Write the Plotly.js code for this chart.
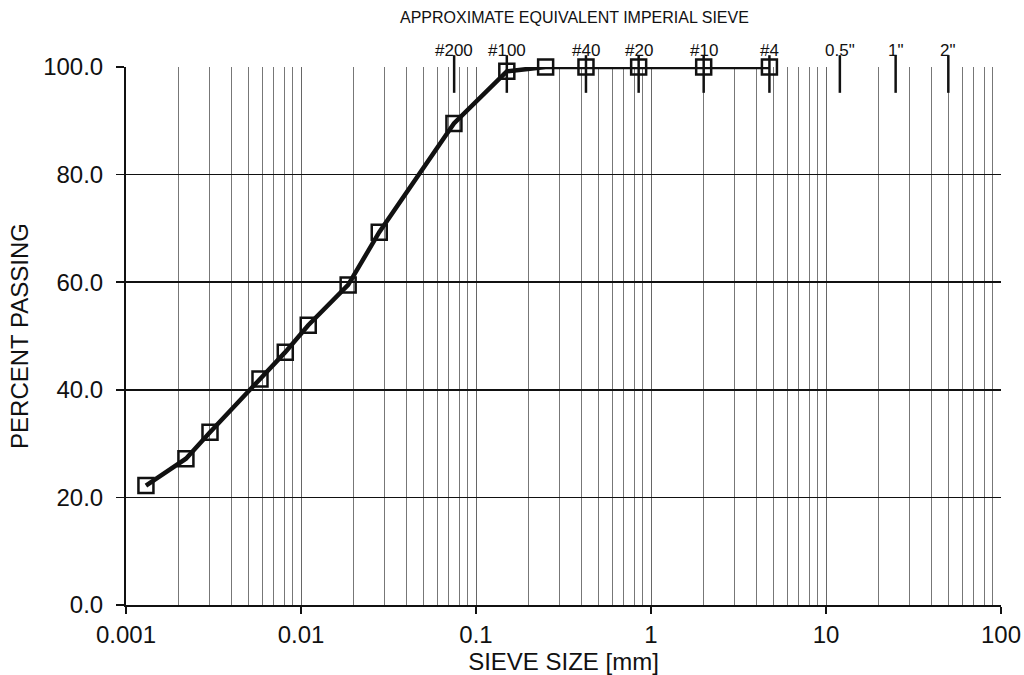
<!DOCTYPE html>
<html>
<head>
<meta charset="utf-8">
<script src="https://cdn.plot.ly/plotly-3.0.1.min.js"></script>
<style>html,body{margin:0;padding:0;background:#fff;}#chart{width:1024px;height:675px;}</style>
</head>
<body>
<div id="chart"></div>
<script>
// Grain size distribution data
var sieveSizeMm = [0.0013, 0.0022, 0.00302, 0.00583, 0.00813, 0.0110, 0.0186, 0.0280, 0.0748, 0.15, 0.25, 0.425, 0.85, 2.0, 4.75];
var percentPassing = [22.2, 27.2, 32.1, 42.0, 47.0, 52.0, 59.5, 69.3, 89.5, 99.2, 100, 100, 100, 100, 100];

// Approximate equivalent imperial sieves
var imperialLabels = ["#200", "#100", "#40", "#20", "#10", "#4", "0.5\"", "1\"", "2\""];
var imperialSizesMm = [0.075, 0.15, 0.425, 0.85, 2.0, 4.75, 12.0, 25.0, 50.0];

// Axis tick labels
var xTickVals = [0.001, 0.01, 0.1, 1, 10, 100];
var xTickText = ["0.001", "0.01", "0.1", "1", "10", "100"];
var yTickVals = [0, 20, 40, 60, 80, 100];
var yTickText = ["0.0", "20.0", "40.0", "60.0", "80.0", "100.0"];

var FONT = "Liberation Sans, Arial, sans-serif";

// minor grid positions (2..9 in each decade)
var minorVals = [];
for (var e = -3; e < 2; e++) {
  for (var m = 2; m <= 9; m++) minorVals.push(m * Math.pow(10, e));
}

var trace = {
  x: sieveSizeMm,
  y: percentPassing,
  type: "scatter",
  mode: "lines+markers",
  line: {color: "#111", width: 4.5},
  marker: {symbol: "square-open", size: 15, color: "#111", line: {width: 2.5, color: "#111"}},
  cliponaxis: false,
  hoverinfo: "x+y"
};

var shapes = [];
var annotations = [];
for (var i = 0; i < imperialSizesMm.length; i++) {
  shapes.push({
    type: "line", xref: "x", yref: "paper",
    x0: imperialSizesMm[i], x1: imperialSizesMm[i],
    y0: 0.952, y1: 1.022,
    line: {color: "#111", width: 2.5}
  });
  annotations.push({
    xref: "x", yref: "paper",
    x: Math.log10(imperialSizesMm[i]), y: 1.0 + (67 - 51) / 538,
    text: imperialLabels[i], showarrow: false,
    xanchor: "center", yanchor: "middle",
    font: {family: FONT, size: 17, color: "#111"}
  });
}
annotations.push({
  xref: "paper", yref: "paper", x: (574 - 126) / 875, y: 1.0 + (67 - 17) / 538,
  text: "APPROXIMATE EQUIVALENT IMPERIAL SIEVE", showarrow: false,
  xanchor: "center", yanchor: "middle",
  font: {family: FONT, size: 16, color: "#111"}
});

var layout = {
  width: 1024, height: 675,
  margin: {l: 126, r: 23, t: 67, b: 70},
  paper_bgcolor: "#fff", plot_bgcolor: "#fff",
  showlegend: false,
  font: {family: FONT, color: "#111"},
  xaxis: {
    type: "log",
    range: [-3, 2],
    tickmode: "array", tickvals: xTickVals, ticktext: xTickText,
    tickfont: {family: FONT, size: 24, color: "#111"},
    ticks: "outside", ticklen: 7, tickwidth: 1.5, tickcolor: "#111",
    showgrid: true, gridcolor: "#666", gridwidth: 1,
    minor: {tickmode: "array", tickvals: minorVals, showgrid: true, gridcolor: "#777", gridwidth: 1, ticks: ""},
    showline: true, linecolor: "#111", linewidth: 2,
    zeroline: false,
    title: {text: "SIEVE SIZE [mm]", font: {family: FONT, size: 24, color: "#111"}, standoff: 0}
  },
  yaxis: {
    range: [0, 100],
    tickmode: "array", tickvals: yTickVals, ticktext: yTickText,
    tickfont: {family: FONT, size: 24, color: "#111"},
    ticks: "outside", ticklen: 8, tickwidth: 1.5, tickcolor: "#111",
    ticklabelstandoff: 8,
    showgrid: true, gridcolor: "#111", gridwidth: 1.5,
    showline: true, linecolor: "#111", linewidth: 2,
    zeroline: false,
    title: {text: "PERCENT PASSING", font: {family: FONT, size: 24, color: "#111"}, standoff: 8}
  },
  shapes: shapes,
  annotations: annotations
};

Plotly.newPlot("chart", [trace], layout, {displayModeBar: false, staticPlot: true});
</script>
</body>
</html>
